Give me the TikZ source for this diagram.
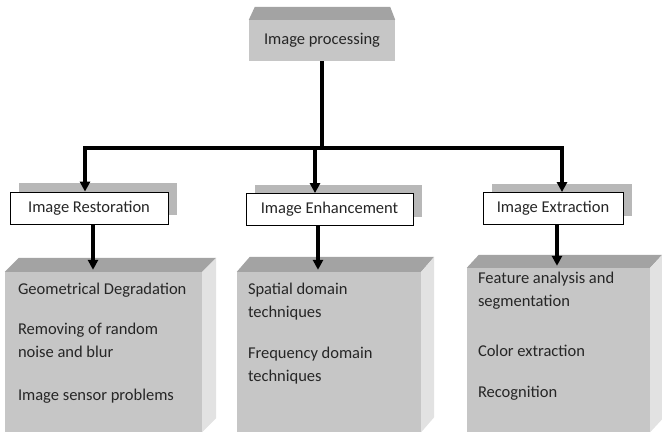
\documentclass[tikz,border=0pt]{standalone}
\usepackage{fontspec}
\setmainfont{Carlito}
\usetikzlibrary{arrows.meta, positioning, shadows}
\usepackage{xcolor}

\definecolor{frontgrey}{RGB}{198,198,198}
\definecolor{topgrey}{RGB}{163,163,163}
\definecolor{sidegrey}{RGB}{226,226,226}
\definecolor{shadegrey}{RGB}{184,184,184}
\definecolor{textgrey}{RGB}{38,38,38}

\begin{document}
\begin{tikzpicture}[
x=1pt, y=-1pt,
font=\fontsize{16.5}{23}\selectfont,
text=textgrey,
procbox/.style={fill=frontgrey,
minimum width=146pt,
minimum height=41pt,
inner sep=0pt},
stagebox/.style={draw=black,
fill=white,
line width=0.8pt,
minimum height=32pt,
inner sep=0pt,
general shadow={fill=shadegrey, shadow xshift=9pt, shadow yshift=9pt}},
bigbox/.style={fill=frontgrey,
minimum height=160pt,
inner sep=0pt},
listtext/.style={align=left, inner sep=0pt, anchor=north west},
bus/.style={line width=3.3pt},
arrow/.style={-{Triangle[length=10pt,width=10pt]}, line width=3.3pt}
]

\useasboundingbox (0,0) rectangle (662,432);

\node[procbox] (proc) at (322,40.5) {Image processing};
\fill[topgrey] (proc.north west) -- ++(6,-13) -- ([shift={(-5,-13)}]proc.north east) -- (proc.north east) -- cycle;

\node[stagebox, minimum width=158pt] (rest) at (89,208) {Image Restoration};
\node[stagebox, minimum width=167pt] (enh) at (329.5,209.5) {Image Enhancement};
\node[stagebox, minimum width=140pt] (ext) at (553,208.5) {Image Extraction};

% 3d boxes with the techniques
\node[bigbox, minimum width=197pt] (restbox) at (103.5,352) {};
\node[bigbox, minimum width=184pt] (enhbox) at (329,352) {};
\node[bigbox, minimum width=183pt, minimum height=164pt] (extbox) at (558.5,350) {};

\fill[topgrey] (restbox.north west) -- ++(14,-14) -- ([shift={(14,-14)}]restbox.north east) -- (restbox.north east) -- cycle;
\fill[sidegrey] (restbox.north east) -- ++(14,-14) -- ([shift={(14,-14)}]restbox.south east) -- (restbox.south east) -- cycle;
\fill[topgrey] (enhbox.north west) -- ++(13,-15) -- ([shift={(13,-15)}]enhbox.north east) -- (enhbox.north east) -- cycle;
\fill[sidegrey] (enhbox.north east) -- ++(13,-15) -- ([shift={(13,-15)}]enhbox.south east) -- (enhbox.south east) -- cycle;
\fill[topgrey] (extbox.north west) -- ++(12,-13) -- ([shift={(12,-13)}]extbox.north east) -- (extbox.north east) -- cycle;
\fill[sidegrey] (extbox.north east) -- ++(12,-13) -- ([shift={(12,-13)}]extbox.south east) -- (extbox.south east) -- cycle;

\node[listtext] (restlist) at ([shift={(13,11)}]restbox.north west) {Geometrical Degradation\\[17pt]Removing of random\\noise and blur\\[20pt]Image sensor problems};
\node[listtext] (enhlist) at ([shift={(11,11)}]enhbox.north west) {Spatial domain\\techniques\\[18pt]Frequency domain\\techniques};
\node[listtext] (extlist) at ([shift={(11,4)}]extbox.north west) {Feature analysis and\\segmentation\\[27pt]Color extraction\\[18pt]Recognition};

% connectors
\coordinate (busleft) at (85,148);
\coordinate (busmid) at (315,148);
\coordinate (busright) at (562,148);

\draw[bus] (proc.south) -- (proc.south |- busleft);
\draw[bus] ([xshift=-1.65pt]busleft) -- ([xshift=1.65pt]busright);
\draw[arrow] (busleft) -- (busleft |- rest.north);
\draw[arrow] (busmid) -- (busmid |- enh.north);
\draw[arrow] (busright) -- (busright |- ext.north);

\draw[arrow] ([xshift=4pt]rest.south) -- ([xshift=4pt,yshift=2pt]rest.south |- restbox.north);
\draw[arrow] ([xshift=-11.5pt]enh.south) -- ([xshift=-11.5pt,yshift=2pt]enh.south |- enhbox.north);
\draw[arrow] ([xshift=4pt]ext.south) -- ([xshift=4pt,yshift=2pt]ext.south |- extbox.north);

\end{tikzpicture}
\end{document}
